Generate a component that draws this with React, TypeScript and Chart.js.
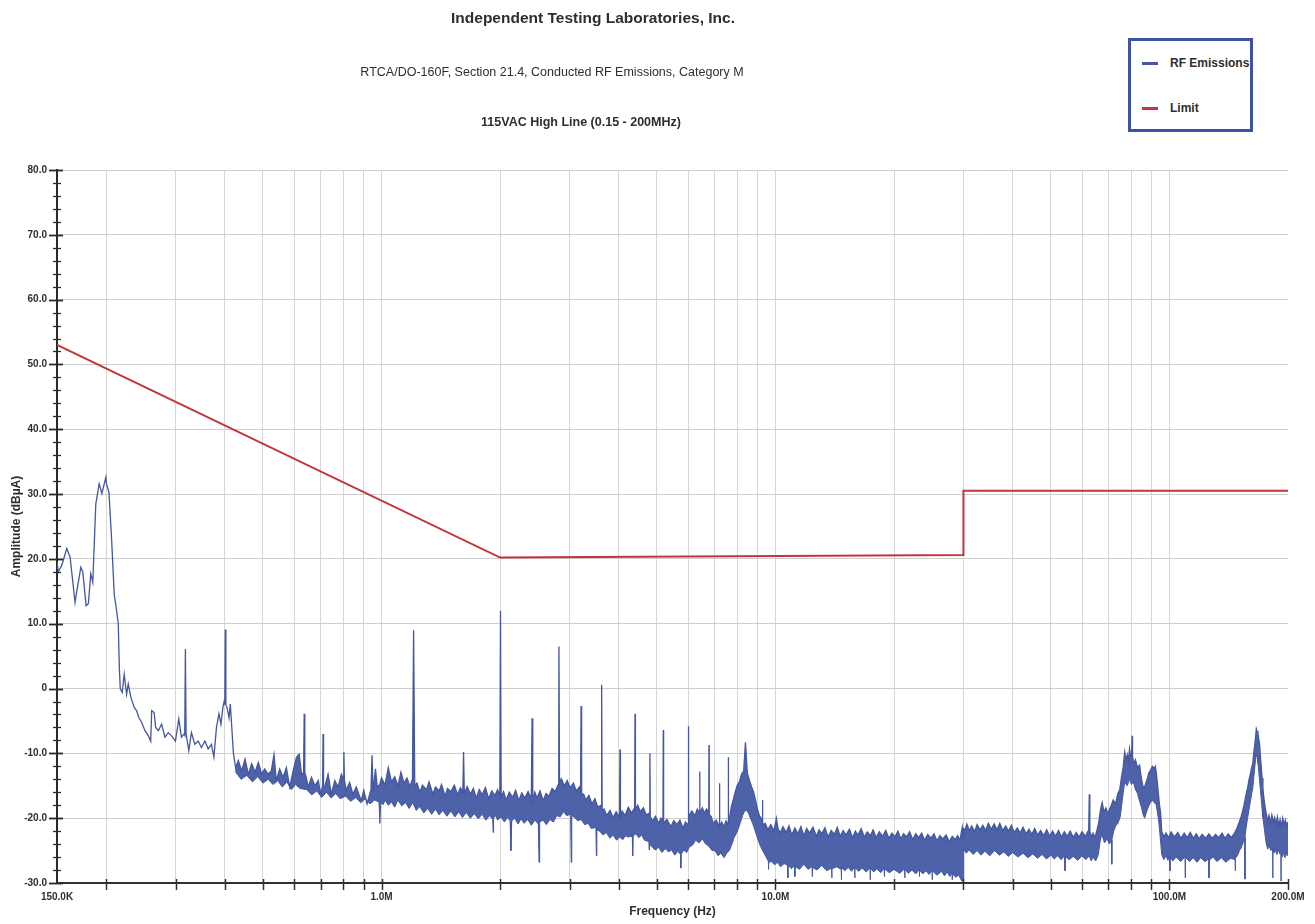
import React, { useEffect, useRef } from 'react';
import { Chart, registerables } from 'chart.js';

Chart.register(...registerables);

// ---------- text ----------
const chartTitle = 'Independent Testing Laboratories, Inc.';
const chartSubtitle = 'RTCA/DO-160F, Section 21.4, Conducted RF Emissions, Category M';
const chartCondition = '115VAC High Line (0.15 - 200MHz)';
const xAxisTitle = 'Frequency (Hz)';
const yAxisTitle = 'Amplitude (dBµA)';
const seriesNames = ['RF Emissions', 'Limit'];

// ---------- axes (frequency in MHz) ----------
const xGridMHz = [0.15, 0.2, 0.3, 0.4, 0.5, 0.6, 0.7, 0.8, 0.9, 1, 2, 3, 4, 5, 6, 7, 8, 9, 10, 20, 30, 40, 50, 60, 70, 80, 90, 100, 200];
const xTickLabelValues = [0.15, 1, 10, 100, 200];
const xTickLabelTexts = ['150.0K', '1.0M', '10.0M', '100.0M', '200.0M'];
const yMin = -30;
const yMax = 80;
const yMajorStep = 10;
const yMinorStep = 2;

// ---------- series: [frequency MHz, amplitude dBµA] ----------
const limitLine: [number, number][] = [
  [0.15, 53.0], [2.0, 20.2], [30, 20.6], [30, 30.5], [200, 30.5],
];

// upper trace of the measured spectrum (includes narrow-band spikes)
const rfEmissionsUpper: [number, number][] = [
  [0.150, 19.5], [0.1511, 18.0], [0.1542, 19.0], [0.1588, 21.6], [0.1619, 20.3], [0.1667, 13.3], [0.1683, 14.9],
  [0.1724, 18.7], [0.1744, 18.0], [0.1778, 12.8], [0.1802, 13.1], [0.1827, 17.7], [0.1849, 16.4], [0.1882, 28.5],
  [0.1919, 31.6], [0.1950, 30.1], [0.1996, 32.6], [0.2003, 31.6], [0.2032, 30.3], [0.2063, 23.3], [0.2096, 14.5],
  [0.2120, 12.5], [0.2146, 10.0], [0.2160, 3.0], [0.2171, 0.0], [0.2196, -0.6], [0.2222, 2.2], [0.2253, -0.9],
  [0.2275, 0.7], [0.2311, -1.4], [0.2356, -2.9], [0.2388, -3.4], [0.2422, -4.5], [0.2459, -5.2], [0.2509, -6.5],
  [0.2559, -7.3], [0.2594, -8.1], [0.2609, -3.4], [0.2646, -3.7], [0.2670, -6.0], [0.2713, -6.5], [0.2765, -5.5],
  [0.2819, -7.5], [0.2874, -6.8], [0.2929, -7.3], [0.2997, -8.1], [0.3057, -4.7], [0.3104, -7.5], [0.3153, -7.0],
  [0.3165, -7.2], [0.3177, 6.1], [0.3190, -7.0], [0.3241, -9.6], [0.3291, -6.8], [0.3357, -8.6], [0.3423, -8.1],
  [0.3490, -9.1], [0.3560, -8.1], [0.3629, -9.3], [0.3700, -8.6], [0.3753, -10.6], [0.3810, -6.0], [0.3865, -3.9],
  [0.3910, -5.5], [0.3956, -2.9], [0.3988, -1.9], [0.4000, -2.5], [0.4012, 9.1], [0.4025, -2.5], [0.4052, -2.9],
  [0.4100, -4.5], [0.4131, -2.4], [0.4162, -5.5], [0.4204, -9.8], [0.4261, -12.2], [0.4329, -11.1], [0.4414, -12.7],
  [0.4502, -10.9], [0.4591, -13.2], [0.4681, -11.6], [0.4774, -12.9], [0.4867, -11.4], [0.4963, -13.2], [0.5050, -12.4],
  [0.5148, -13.2], [0.5249, -12.7], [0.5333, -10.2], [0.5405, -14.2], [0.5513, -12.4], [0.5622, -13.7], [0.5732, -12.2],
  [0.5847, -15.2], [0.5965, -12.7], [0.6081, -10.6], [0.6178, -10.1], [0.6262, -13.2], [0.6340, -13.0], [0.6362, -3.9],
  [0.6385, -13.0], [0.6437, -13.7], [0.6515, -15.2], [0.6640, -13.7], [0.6773, -15.0], [0.6906, -14.2], [0.7008, -16.3],
  [0.7085, -15.0], [0.7104, -7.0], [0.7125, -15.0], [0.7174, -15.2], [0.7314, -13.2], [0.7457, -16.3], [0.7607, -14.2],
  [0.7755, -15.2], [0.7907, -13.2], [0.8000, -14.0], [0.8023, -9.8], [0.8045, -14.0], [0.8132, -15.7], [0.8296, -14.5],
  [0.8458, -16.3], [0.8623, -15.2], [0.8878, -17.3], [0.9011, -15.7], [0.9186, -17.8], [0.940, -15.6], [0.946, -10.3],
  [0.952, -16.0], [0.965, -12.4], [0.975, -15.2], [0.990, -14.8],
  [1.00, -13.8], [1.02, -14.9], [1.04, -12.2], [1.06, -14.4], [1.08, -13.6], [1.10, -15.0], [1.12, -12.9],
  [1.14, -14.6], [1.16, -13.8], [1.18, -15.1], [1.198, -14.0], [1.206, 9.0], [1.214, -15.0], [1.23, -14.6],
  [1.25, -16.0], [1.27, -14.9], [1.30, -15.6], [1.32, -14.4], [1.35, -16.3], [1.37, -15.2], [1.40, -15.8],
  [1.42, -14.8], [1.45, -16.6], [1.47, -15.4], [1.50, -15.9], [1.53, -14.9], [1.56, -16.4], [1.585, -15.3],
  [1.608, -16.0], [1.615, -9.8], [1.622, -16.2], [1.65, -15.1], [1.68, -16.3], [1.71, -15.4], [1.74, -16.9],
  [1.77, -15.6], [1.80, -16.4], [1.835, -15.3], [1.87, -17.0], [1.905, -15.8], [1.94, -16.5], [1.97, -15.6],
  [1.996, -16.6], [2.004, 12.0], [2.012, -16.8], [2.04, -15.9], [2.07, -17.2], [2.11, -16.0], [2.15, -16.8],
  [2.19, -15.7], [2.23, -17.3], [2.27, -16.1], [2.31, -16.9], [2.355, -15.9], [2.40, -17.0], [2.41, -4.6],
  [2.42, -17.2], [2.45, -16.0], [2.48, -16.9], [2.525, -15.8], [2.57, -17.3], [2.615, -16.2], [2.66, -16.6],
  [2.71, -15.4], [2.76, -15.9], [2.81, -14.8], [2.82, 6.5], [2.83, -14.6], [2.86, -13.9], [2.91, -15.0],
  [2.96, -14.2], [3.01, -15.3], [3.07, -14.6], [3.12, -15.8], [3.18, -15.2], [3.20, -16.0], [3.21, -2.7],
  [3.22, -16.2], [3.26, -16.3], [3.30, -17.2], [3.36, -16.5], [3.42, -17.8], [3.48, -17.0], [3.54, -18.3],
  [3.61, -18.0], [3.62, 0.6], [3.63, -18.8], [3.67, -18.6], [3.73, -19.6], [3.80, -18.8], [3.87, -19.9],
  [3.94, -19.0], [4.02, -19.8], [4.03, -9.4], [4.04, -19.8], [4.08, -18.9], [4.15, -19.6], [4.23, -18.3],
  [4.31, -19.2], [4.39, -18.4], [4.40, -3.9], [4.41, -18.6], [4.47, -18.0], [4.54, -19.0], [4.62, -18.4],
  [4.70, -19.5], [4.79, -19.2], [4.80, -10.0], [4.81, -19.8], [4.87, -20.4], [4.96, -19.7], [5.05, -20.8],
  [5.12, -20.0], [5.18, -20.4], [5.19, -6.4], [5.20, -20.8], [5.30, -20.2], [5.42, -21.3], [5.52, -20.4],
  [5.62, -21.0], [5.72, -20.3], [5.82, -21.5], [5.91, -20.6], [6.00, -21.0], [6.01, -5.8], [6.02, -19.8],
  [6.13, -18.9], [6.25, -19.6], [6.33, -18.6], [6.41, -19.2], [6.42, -12.8], [6.43, -19.2], [6.52, -18.4],
  [6.60, -19.2], [6.68, -18.6], [6.77, -19.1], [6.78, -8.7], [6.79, -19.4], [6.87, -19.8], [6.95, -20.8],
  [7.07, -20.3], [7.20, -21.2], [7.21, -14.6], [7.22, -21.4], [7.30, -20.6], [7.40, -21.3], [7.49, -20.4],
  [7.58, -21.0], [7.59, -10.6], [7.60, -20.8], [7.66, -19.6], [7.73, -18.2], [7.81, -17.2], [7.90, -16.0],
  [8.00, -14.9], [8.10, -14.4], [8.20, -13.2], [8.30, -12.8], [8.39, -8.3], [8.48, -13.0], [8.59, -14.2],
  [8.70, -15.2], [8.80, -16.0], [8.91, -17.4], [9.00, -18.6], [9.10, -19.6], [9.18, -19.9], [9.26, -20.4],
  [9.27, -17.2], [9.28, -21.0], [9.42, -20.8], [9.56, -21.8], [9.73, -21.0], [9.91, -22.0], [10.05, -20.0],
  [10.15, -21.6], [10.27, -22.3], [10.45, -21.3], [10.64, -22.2], [10.82, -21.2], [11.0, -22.6], [11.2, -21.5],
  [11.4, -22.4], [11.6, -21.3], [11.8, -22.7], [12.0, -21.6], [12.2, -22.3], [12.45, -21.4], [12.7, -22.8],
  [12.9, -21.8], [13.1, -22.4], [13.35, -21.5], [13.6, -22.9], [13.85, -21.9], [14.1, -22.5], [14.35, -21.4],
  [14.6, -22.8], [14.85, -21.9], [15.1, -22.6], [15.4, -21.7], [15.7, -23.0], [15.95, -22.0], [16.2, -22.6],
  [16.5, -21.6], [16.8, -22.9], [17.1, -22.1], [17.4, -22.7], [17.7, -21.8], [18.0, -23.0], [18.35, -22.1],
  [18.7, -22.8], [19.05, -21.9], [19.4, -23.1], [19.75, -22.3], [20.1, -22.9], [20.45, -22.0], [20.8, -23.2],
  [21.15, -22.4], [21.5, -22.9], [21.9, -22.1], [22.3, -23.3], [22.7, -22.4], [23.1, -23.0], [23.5, -22.3],
  [23.9, -23.4], [24.35, -22.5], [24.8, -23.1], [25.25, -22.4], [25.7, -23.5], [26.15, -22.7], [26.6, -23.2],
  [27.1, -22.6], [27.6, -23.6], [28.1, -22.8], [28.6, -23.3], [29.0, -22.7], [29.4, -23.4], [29.8, -21.4],
  [29.95, -23.0], [30.02, -21.6],
  [30.3, -21.8], [30.6, -20.9], [31.05, -21.9], [31.5, -21.2], [32.0, -22.1], [32.5, -21.0], [33.05, -21.8],
  [33.6, -21.1], [34.15, -21.9], [34.7, -20.8], [35.3, -21.7], [35.9, -20.9], [36.5, -21.8], [37.1, -20.8],
  [37.75, -21.9], [38.4, -21.2], [39.05, -22.0], [39.7, -21.1], [40.4, -22.2], [41.1, -21.5], [41.8, -22.3],
  [42.5, -21.4], [43.25, -22.4], [44.0, -21.7], [44.75, -22.5], [45.5, -21.6], [46.3, -22.6], [47.1, -21.9],
  [47.95, -22.7], [48.8, -21.8], [49.65, -22.8], [50.5, -22.0], [51.4, -22.8], [52.3, -21.9], [53.2, -22.9],
  [54.1, -22.1], [55.05, -22.8], [56.0, -22.0], [57.0, -23.0], [58.0, -22.2], [59.0, -22.9], [60.0, -22.1],
  [61.2, -22.8], [62.4, -21.8], [62.6, -16.3], [62.8, -22.0], [63.4, -22.9], [64.0, -22.3], [64.7, -23.0],
  [65.5, -21.8], [66.2, -20.6], [66.8, -18.8], [67.5, -17.6], [68.2, -19.0], [69.0, -18.4], [69.8, -19.3],
  [70.5, -18.6], [71.2, -18.0], [72.0, -17.2], [73.0, -17.8], [74.0, -16.2], [74.8, -15.6], [75.5, -13.8],
  [76.3, -12.2], [77.0, -9.8], [77.6, -11.0], [78.2, -10.2], [78.7, -11.2], [79.2, -9.3], [79.7, -10.4],
  [80.2, -10.0], [80.4, -7.3], [80.6, -10.5], [81.3, -11.6], [82.0, -11.0], [83.0, -12.2], [84.0, -11.8],
  [84.5, -13.0], [85.0, -14.1], [85.6, -15.0], [86.3, -15.4], [87.1, -14.6], [88.0, -13.8], [88.7, -13.0],
  [89.5, -12.6], [90.5, -12.0], [91.5, -12.3], [92.1, -12.0], [92.7, -13.2], [93.3, -14.8], [93.8, -16.4],
  [94.4, -18.0], [95.0, -19.2], [95.6, -22.0], [96.8, -22.9], [98.0, -22.3], [99.5, -23.0], [101, -22.1],
  [103, -22.9], [105, -22.2], [107, -23.1], [109, -22.3], [111, -23.0], [113, -22.2], [115, -23.1],
  [117, -22.4], [119, -23.2], [121, -22.5], [123.5, -23.1], [126, -22.4], [128.5, -23.1], [131, -22.5],
  [133.5, -23.0], [136, -22.3], [138.5, -23.1], [141, -22.4], [143.5, -23.0], [146, -22.4], [148.3, -21.6],
  [150.6, -20.5], [152, -19.8], [153.4, -18.9], [154.7, -18.0], [156, -16.8], [157, -16.0], [158, -15.3],
  [159.3, -14.0], [160.5, -13.2], [161.7, -12.2], [162.8, -11.6], [163.7, -10.0], [164.5, -9.0], [165.4, -7.6],
  [166.2, -6.2], [167, -6.6], [167.8, -7.0], [168.6, -7.8], [169.4, -8.6], [170.2, -10.4], [171, -12.0],
  [171.9, -13.8], [172.7, -15.3], [173.6, -16.8], [174.5, -17.8], [175.4, -18.7], [176.3, -19.4], [177.6, -20.4],
  [179, -19.6], [180.5, -20.8], [182, -19.5], [183.5, -20.6], [185, -19.9], [186.5, -21.0], [188, -19.8],
  [189.5, -21.2], [191, -20.2], [192.5, -21.3], [194, -20.0], [195.5, -21.0], [197, -20.3], [198.5, -21.2],
  [200, -20.6],
];

// lower trace of the noise band (includes the downward dropouts)
const rfEmissionsLower: [number, number][] = [
  [0.425, -12.8], [0.44, -14.0], [0.455, -13.4], [0.47, -14.4], [0.485, -13.6], [0.50, -14.6], [0.515, -14.0],
  [0.53, -14.8], [0.545, -14.2], [0.56, -15.2], [0.575, -14.4], [0.59, -15.6], [0.605, -14.8], [0.62, -15.4],
  [0.645, -15.6], [0.665, -16.4], [0.685, -15.8], [0.705, -16.8], [0.725, -16.0], [0.745, -16.9], [0.765, -16.2],
  [0.785, -17.0], [0.81, -16.6], [0.835, -17.4], [0.86, -16.8], [0.885, -17.6], [0.91, -17.0], [0.935, -17.8],
  [0.960, -17.2], [0.985, -17.5], [0.990, -20.8], [0.995, -17.6], [1.01, -17.9], [1.02, -17.2], [1.04, -18.0],
  [1.06, -17.5], [1.08, -18.3], [1.10, -17.2], [1.125, -18.1], [1.15, -17.6], [1.175, -18.5], [1.20, -17.6],
  [1.225, -18.8], [1.25, -18.2], [1.28, -19.2], [1.31, -18.5], [1.34, -19.4], [1.37, -18.6], [1.40, -19.5],
  [1.43, -18.8], [1.465, -19.7], [1.50, -18.9], [1.535, -19.8], [1.57, -19.0], [1.605, -19.9], [1.64, -19.1],
  [1.68, -20.0], [1.72, -19.3], [1.76, -20.1], [1.80, -19.4], [1.84, -20.3], [1.88, -19.6], [1.915, -20.2],
  [1.920, -22.2], [1.925, -20.0], [1.95, -19.6], [1.97, -20.3], [2.01, -19.8], [2.05, -20.6], [2.085, -19.9],
  [2.12, -20.4], [2.13, -25.0], [2.14, -20.4], [2.18, -20.0], [2.22, -20.9], [2.26, -20.1], [2.30, -20.8],
  [2.35, -20.2], [2.40, -21.1], [2.45, -20.3], [2.50, -20.9], [2.51, -26.8], [2.52, -20.6], [2.57, -20.3],
  [2.62, -21.0], [2.675, -20.2], [2.73, -20.6], [2.785, -19.6], [2.84, -19.8], [2.895, -19.0], [2.95, -19.6],
  [3.02, -19.4], [3.03, -26.8], [3.04, -19.6], [3.09, -19.9], [3.15, -20.4], [3.21, -20.2], [3.28, -21.0],
  [3.345, -20.8], [3.41, -21.6], [3.50, -21.4], [3.51, -25.8], [3.52, -21.8], [3.58, -22.0], [3.65, -22.6],
  [3.72, -22.2], [3.80, -23.1], [3.87, -22.6], [3.95, -23.4], [4.02, -22.9], [4.10, -23.3], [4.16, -22.7],
  [4.22, -22.9], [4.33, -22.8], [4.34, -25.8], [4.35, -22.8], [4.42, -22.4], [4.50, -23.0], [4.57, -22.6],
  [4.65, -23.4], [4.77, -23.6], [4.78, -24.9], [4.79, -24.0], [4.87, -24.5], [4.95, -24.9], [5.05, -24.5],
  [5.15, -25.3], [5.25, -24.7], [5.35, -25.2], [5.45, -24.9], [5.55, -25.7], [5.65, -25.1], [5.74, -25.6],
  [5.75, -27.7], [5.76, -25.6], [5.85, -24.9], [5.95, -25.3], [6.05, -24.4], [6.15, -24.2], [6.27, -23.4],
  [6.40, -23.8], [6.52, -23.2], [6.65, -24.0], [6.77, -24.3], [6.90, -25.0], [7.02, -25.0], [7.15, -25.8],
  [7.27, -25.4], [7.40, -26.1], [7.52, -25.4], [7.65, -24.9], [7.75, -24.0], [7.85, -23.0], [7.95, -22.4],
  [8.05, -21.6], [8.15, -20.6], [8.25, -19.6], [8.35, -18.9], [8.45, -18.8], [8.55, -19.3], [8.65, -20.1],
  [8.75, -20.8], [8.85, -21.7], [8.95, -22.6], [9.05, -23.5], [9.17, -24.4], [9.30, -25.1], [9.45, -25.9],
  [9.59, -26.6], [9.60, -27.9], [9.61, -26.8], [9.78, -26.7], [9.95, -27.2], [10.12, -26.8], [10.3, -27.5],
  [10.52, -27.0], [10.74, -27.3], [10.75, -29.2], [10.76, -27.2], [10.97, -27.8], [11.19, -27.3], [11.20, -29.0],
  [11.21, -27.4], [11.5, -27.9], [11.8, -27.1], [12.1, -27.9], [12.39, -27.4], [12.40, -29.0], [12.41, -27.6],
  [12.75, -28.0], [13.1, -27.3], [13.5, -28.1], [13.89, -27.7], [13.90, -29.2], [13.91, -27.8], [14.3, -27.5],
  [14.69, -27.9], [14.70, -29.5], [14.71, -27.6], [15.0, -28.1], [15.3, -27.6], [15.6, -28.2], [15.89, -27.5],
  [15.90, -29.2], [15.91, -27.6], [16.25, -28.2], [16.6, -27.7], [17.0, -28.3], [17.39, -27.6], [17.40, -29.5],
  [17.41, -27.7], [17.75, -28.3], [18.1, -27.8], [18.5, -28.4], [18.89, -27.7], [18.90, -29.0], [18.91, -27.8],
  [19.45, -28.4], [20.0, -27.9], [20.65, -28.5], [21.29, -27.8], [21.30, -29.2], [21.31, -27.9], [21.75, -28.5],
  [22.2, -28.0], [22.7, -28.6], [23.19, -27.9], [23.20, -29.0], [23.21, -28.0], [23.65, -28.6], [24.1, -28.1],
  [24.55, -28.7], [24.99, -28.0], [25.00, -29.5], [25.01, -28.1], [25.7, -28.8], [26.4, -28.2], [26.85, -28.9],
  [27.3, -28.3], [27.7, -29.0], [28.09, -28.4], [28.10, -29.5], [28.11, -28.5], [28.65, -29.1], [29.2, -28.8],
  [29.7, -29.7], [29.95, -29.7], [30.05, -24.8],
  [30.5, -25.4], [31.0, -24.9], [31.75, -25.6], [32.5, -25.0], [33.25, -25.7], [34.0, -25.1], [35.0, -25.8],
  [36.0, -25.0], [37.0, -25.7], [38.0, -25.2], [39.0, -25.9], [40.0, -25.3], [41.25, -26.0], [42.5, -25.4],
  [43.75, -26.1], [45.0, -25.5], [46.25, -26.2], [47.5, -25.6], [48.75, -26.3], [50.0, -25.7], [51.0, -26.3],
  [52.0, -25.8], [53.1, -26.4], [54.2, -25.8], [54.3, -28.1], [54.4, -25.9], [55.7, -26.4], [57.0, -25.9],
  [58.5, -26.5], [60.0, -25.8], [61.3, -26.4], [62.6, -25.8], [63.3, -26.6], [64.0, -26.0], [65.0, -26.6],
  [66.0, -25.6], [66.7, -23.6], [67.3, -22.4], [68.4, -23.8], [69.5, -23.2], [70.4, -24.0], [71.3, -23.4],
  [71.4, -27.1], [71.5, -23.2], [72.2, -22.0], [73.0, -21.2], [74.0, -20.8], [75.0, -19.8], [76.0, -17.0],
  [77.0, -14.4], [78.1, -15.0], [79.2, -14.0], [80.1, -14.8], [81.0, -14.4], [82.0, -15.6], [83.0, -16.2],
  [84.0, -17.4], [85.0, -18.4], [85.7, -19.4], [86.5, -20.0], [87.5, -19.0], [88.5, -18.2], [89.5, -17.6],
  [90.5, -17.2], [91.5, -17.6], [92.5, -17.9], [93.3, -19.2], [94.0, -20.6], [94.8, -23.0], [95.6, -25.6],
  [96.8, -26.4], [98.0, -25.8], [99.1, -26.5], [100.2, -25.8], [100.3, -28.1], [100.4, -25.9], [102, -26.6],
  [104, -26.0], [106.8, -26.7], [109.6, -25.9], [109.7, -29.2], [109.8, -26.0], [112.4, -26.7], [115, -26.1],
  [117.5, -26.8], [120, -26.1], [123, -26.7], [125.9, -26.3], [126.0, -29.2], [126.1, -26.5], [129, -26.0],
  [132, -26.7], [135.5, -26.1], [139, -26.8], [143, -26.2], [146.9, -26.4], [147.0, -28.1], [147.1, -26.2],
  [148.8, -25.8], [150.6, -25.0], [152, -24.6], [153.4, -24.0], [154.4, -23.4], [155.4, -23.0], [155.5, -29.4],
  [155.6, -22.8], [156.8, -21.2], [158, -19.9], [159.3, -18.6], [160.5, -17.5], [161.7, -16.2], [162.8, -15.3],
  [163.7, -13.8], [164.5, -12.5], [165.4, -11.0], [166.2, -10.1], [167, -10.6], [167.8, -11.5], [168.6, -12.8],
  [169.4, -14.2], [170.2, -15.6], [171, -17.0], [171.9, -18.6], [172.7, -19.9], [173.6, -21.0], [174.5, -22.0],
  [175.4, -23.2], [176.3, -24.0], [177.6, -24.8], [179, -24.2], [180.9, -25.0], [182.9, -24.5], [183.0, -29.2],
  [183.1, -24.8], [184.5, -25.4], [186, -24.9], [187.5, -25.6], [189, -24.8], [190.5, -25.5], [191.9, -25.0],
  [192.0, -29.7], [192.1, -25.4], [193.5, -26.0], [195, -25.3], [196.5, -26.1], [198, -25.2], [199, -25.8],
  [200, -25.6],
];

// ---------- styles ----------
const FONT = '"Liberation Sans", Arial, Helvetica, sans-serif';
const TEXT = '#2e2e2e';
const BLUE_LINE = '#44579f';
const BLUE_FILL = '#4e62aa';
const RED = '#c2363b';

const xLabelFor = (v: number) => {
  const i = xTickLabelValues.findIndex((t) => Math.abs(t - v) / t < 1e-6);
  return i >= 0 ? xTickLabelTexts[i] : '';
};

const axisCrossTicks = {
  id: 'axisCrossTicks',
  afterDatasetsDraw(chart: any) {
    const { ctx, chartArea, scales } = chart;
    const xs = scales.x;
    const ys = scales.y;
    ctx.save();
    ctx.strokeStyle = '#2a2a2a';
    for (let v = yMin; v <= yMax; v += yMinorStep) {
      const py = Math.round(ys.getPixelForValue(v)) + 0.5;
      const major = v % yMajorStep === 0;
      ctx.lineWidth = major ? 1.8 : 1.3;
      ctx.beginPath();
      ctx.moveTo(chartArea.left - (major ? 8 : 4), py);
      ctx.lineTo(chartArea.left + (major ? 6 : 4), py);
      ctx.stroke();
    }
    ctx.strokeStyle = '#35302a';
    for (const v of xGridMHz) {
      if (v === xGridMHz[0]) continue;
      const px = Math.round(xs.getPixelForValue(v)) + 0.5;
      ctx.lineWidth = 1.5;
      ctx.beginPath();
      ctx.moveTo(px, chartArea.bottom - 4);
      ctx.lineTo(px, chartArea.bottom + 7);
      ctx.stroke();
    }
    ctx.restore();
  },
};

export default function App() {
  const canvasRef = useRef<HTMLCanvasElement | null>(null);

  useEffect(() => {
    const canvas = canvasRef.current;
    if (!canvas) return;
    const toPoints = (arr: [number, number][]) => arr.map(([x, y]) => ({ x, y }));
    const chart = new Chart(canvas, {
      type: 'line',
      data: {
        datasets: [
          {
            label: seriesNames[0],
            data: toPoints(rfEmissionsUpper),
            borderColor: BLUE_LINE,
            borderWidth: 1.3,
            pointRadius: 0,
            fill: false,
            tension: 0,
          },
          {
            label: seriesNames[0] + ' (band floor)',
            data: toPoints(rfEmissionsLower),
            borderColor: BLUE_LINE,
            backgroundColor: BLUE_FILL,
            borderWidth: 1,
            pointRadius: 0,
            fill: '-1',
            tension: 0,
          },
          {
            label: seriesNames[1],
            data: toPoints(limitLine),
            borderColor: RED,
            borderWidth: 2,
            pointRadius: 0,
            fill: false,
            tension: 0,
          },
        ],
      } as any,
      options: {
        responsive: false,
        animation: false,
        devicePixelRatio: 1,
        events: [],
        layout: { padding: { top: 170, right: 27, left: 0, bottom: 0 } },
        plugins: {
          legend: { display: false },
          tooltip: { enabled: false },
          title: { display: false },
        },
        scales: {
          x: {
            type: 'logarithmic',
            min: 0.15,
            max: 200,
            afterBuildTicks: (s: any) => {
              s.ticks = xGridMHz.map((v) => ({ value: v }));
            },
            afterFit: (s: any) => {
              s.height = 41;
            },
            ticks: {
              autoSkip: false,
              maxRotation: 0,
              minRotation: 0,
              padding: 8,
              color: TEXT,
              font: { family: FONT, size: 10, weight: 'bold' },
              callback: (v: any) => xLabelFor(Number(v)),
            },
            grid: {
              color: (c: any) =>
                c.tick && (c.tick.value === 200 || c.tick.value === 0.15) ? 'rgba(0,0,0,0)' : '#d6d6d6',
              lineWidth: 1,
              drawTicks: false,
            },
            border: { display: true, color: '#35302a', width: 2 },
            title: {
              display: true,
              text: xAxisTitle,
              color: TEXT,
              font: { family: FONT, size: 12, weight: 'bold' },
              padding: { top: 0, bottom: 5 },
            },
          },
          y: {
            type: 'linear',
            min: yMin,
            max: yMax,
            afterFit: (s: any) => {
              s.width = 57;
            },
            ticks: {
              stepSize: yMajorStep,
              padding: 10,
              color: TEXT,
              font: { family: FONT, size: 10, weight: 'bold' },
              callback: (v: any) => (Number(v) === 0 ? '0' : Number(v).toFixed(1)),
            },
            grid: { color: '#cdcdcd', lineWidth: 1, drawTicks: false },
            border: { display: true, color: '#2a2a2a', width: 2 },
            title: {
              display: true,
              text: yAxisTitle,
              color: TEXT,
              font: { family: FONT, size: 12, weight: 'bold' },
              padding: { top: 9, bottom: 0 },
            },
          },
        },
      } as any,
      plugins: [axisCrossTicks],
    });
    return () => chart.destroy();
  }, []);

  const textBase: React.CSSProperties = {
    position: 'absolute',
    fontFamily: FONT,
    color: TEXT,
    whiteSpace: 'nowrap',
    transform: 'translateX(-50%)',
  };

  return (
    <div
      style={{
        position: 'absolute',
        left: 0,
        top: 0,
        width: 1315,
        height: 924,
        background: '#ffffff',
        overflow: 'hidden',
      }}
    >
      <canvas
        ref={canvasRef}
        width={1315}
        height={924}
        style={{ position: 'absolute', left: 0, top: 0, display: 'block' }}
      />
      <div style={{ ...textBase, left: 593, top: 8, fontSize: 15.5, fontWeight: 'bold', lineHeight: '20px' }}>
        {chartTitle}
      </div>
      <div style={{ ...textBase, left: 552, top: 64, fontSize: 12.5, lineHeight: '16px' }}>{chartSubtitle}</div>
      <div style={{ ...textBase, left: 581, top: 114, fontSize: 12.5, fontWeight: 'bold', lineHeight: '16px' }}>
        {chartCondition}
      </div>
      <div
        style={{
          position: 'absolute',
          left: 1128,
          top: 38,
          width: 125,
          height: 94,
          boxSizing: 'border-box',
          border: '3px solid #3f52a2',
          background: '#ffffff',
          fontFamily: FONT,
        }}
      >
        {[
          { name: seriesNames[0], color: BLUE_LINE, top: 14 },
          { name: seriesNames[1], color: RED, top: 59 },
        ].map((it) => (
          <div key={it.name} style={{ position: 'absolute', left: 0, top: it.top, height: 16, width: 140 }}>
            <div
              style={{
                position: 'absolute',
                left: 11,
                top: 7,
                width: 16,
                height: 3,
                background: it.color,
              }}
            />
            <div
              style={{
                position: 'absolute',
                left: 39,
                top: 0,
                lineHeight: '16px',
                fontSize: 12,
                fontWeight: 'bold',
                color: TEXT,
                whiteSpace: 'nowrap',
              }}
            >
              {it.name}
            </div>
          </div>
        ))}
      </div>
    </div>
  );
}
